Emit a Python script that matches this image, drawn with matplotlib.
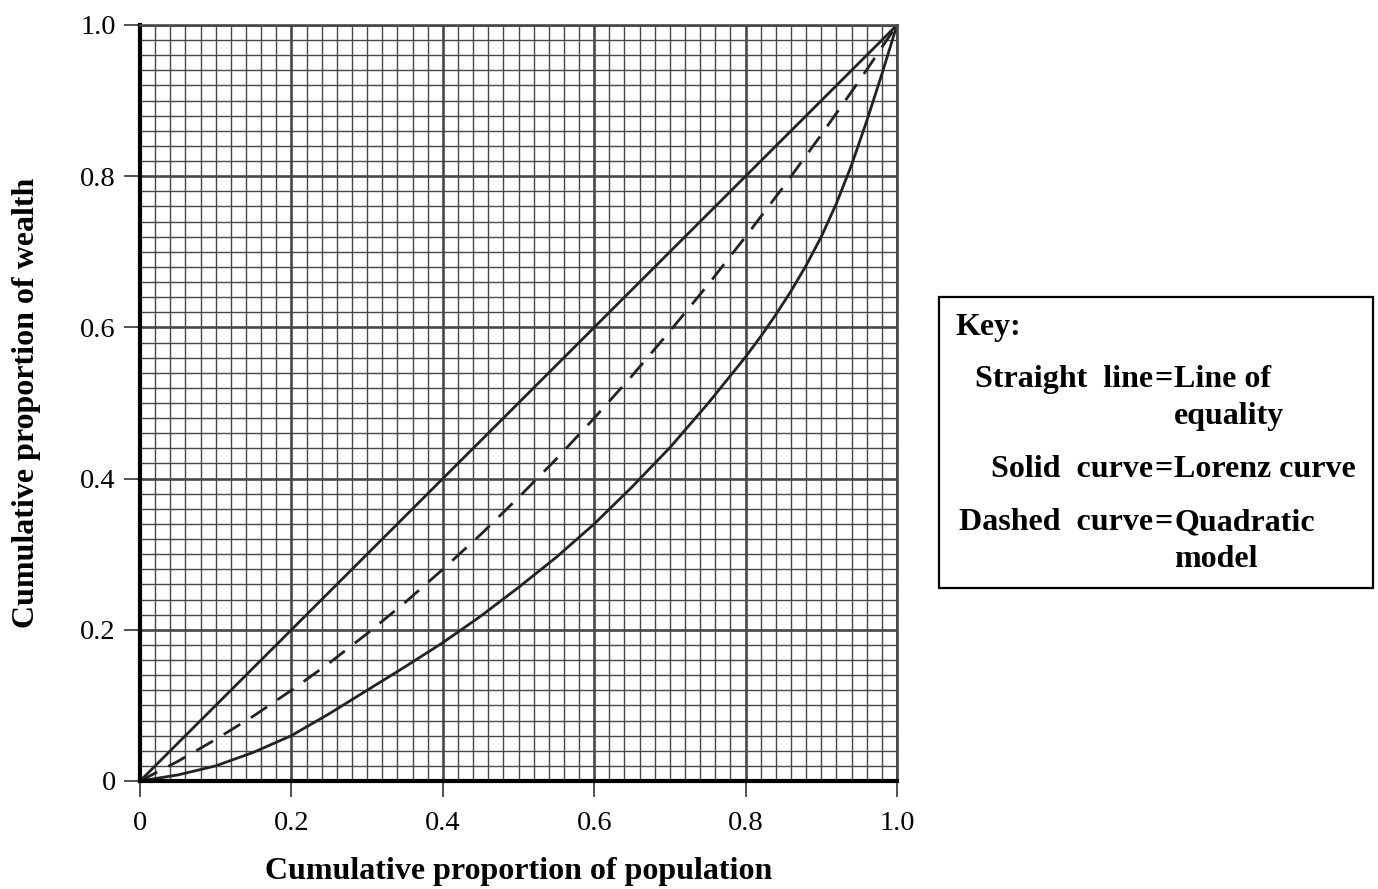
import numpy as np
import matplotlib
matplotlib.use("Agg")
import matplotlib.pyplot as plt
from matplotlib.ticker import MultipleLocator

# =========================
# Data
# =========================
lorenz_population = [0.0, 0.05, 0.1, 0.15, 0.2, 0.25, 0.3, 0.35, 0.4, 0.45, 0.5,
                     0.55, 0.6, 0.65, 0.7, 0.75, 0.8, 0.82, 0.84, 0.86, 0.88,
                     0.9, 0.92, 0.94, 0.96, 0.98, 1.0]
lorenz_wealth = [0.0, 0.008, 0.02, 0.038, 0.06, 0.089, 0.12, 0.151, 0.183, 0.218, 0.256,
                 0.296, 0.34, 0.389, 0.441, 0.499, 0.561, 0.588, 0.617, 0.648, 0.682,
                 0.72, 0.764, 0.815, 0.873, 0.935, 1.0]

quad_population = [0.0, 0.05, 0.1, 0.15, 0.2, 0.25, 0.3, 0.35, 0.4, 0.45, 0.5,
                   0.55, 0.6, 0.65, 0.7, 0.75, 0.8, 0.85, 0.9, 0.95, 1.0]
quadratic_wealth = [0.0, 0.026, 0.055, 0.086, 0.12, 0.156, 0.195, 0.236, 0.28, 0.326, 0.375,
                    0.426, 0.48, 0.536, 0.595, 0.656, 0.72, 0.786, 0.855, 0.926, 1.0]

equality_x = [0.0, 1.0]
equality_y = [0.0, 1.0]

tick_values = [0, 0.2, 0.4, 0.6, 0.8, 1.0]
tick_labels = ["0", "0.2", "0.4", "0.6", "0.8", "1.0"]

key_left = ["Straight  line", "Solid  curve", "Dashed  curve"]
key_right = ["Line of", "Lorenz curve", "Quadratic"]
key_right_2 = ["equality", "", "model"]

# =========================
# Figure
# =========================
W, H = 1378, 889
plt.rcParams["font.family"] = ["Liberation Serif", "DejaVu Serif"]

fig = plt.figure(figsize=(W / 100, H / 100), dpi=100)
ax = fig.add_axes([140 / W, (H - 781) / H, (897 - 140) / W, (781 - 25) / H])

grid_col = "#474747"
ax.xaxis.set_minor_locator(MultipleLocator(0.02))
ax.yaxis.set_minor_locator(MultipleLocator(0.02))
ax.xaxis.set_major_locator(MultipleLocator(0.2))
ax.yaxis.set_major_locator(MultipleLocator(0.2))
ax.grid(which="minor", color=grid_col, lw=1.0)
ax.grid(which="major", color=grid_col, lw=1.9)
ax.set_axisbelow(True)

line_col = "#222222"
ax.plot(equality_x, equality_y, color=line_col, lw=2.0)
ax.plot(lorenz_population, lorenz_wealth, color=line_col, lw=2.0)
ax.plot(quad_population, quadratic_wealth, color=line_col, lw=2.0,
        dashes=(7, 4.5))

ax.set_xlim(0, 1)
ax.set_ylim(0, 1)

for side in ["left", "bottom"]:
    ax.spines[side].set_color("black")
    ax.spines[side].set_linewidth(3.0)
for side in ["top", "right"]:
    ax.spines[side].set_color(grid_col)
    ax.spines[side].set_linewidth(1.9)

ax.set_xticks(tick_values)
ax.set_xticklabels(tick_labels)
ax.set_yticks(tick_values)
ax.set_yticklabels(tick_labels)
ax.tick_params(which="major", direction="out", length=11.5, width=1.2,
               color="#333333", labelsize=20.5, pad=6)
ax.tick_params(axis="x", pad=10)
ax.tick_params(which="minor", length=0)

ax.set_xlabel("Cumulative proportion of population", fontsize=23,
              fontweight="bold", labelpad=15)
ax.set_ylabel("Cumulative proportion of wealth", fontsize=23,
              fontweight="bold", labelpad=28)

# =========================
# Key box
# =========================
box = plt.Rectangle((939 / W, (H - 588) / H), (1373 - 939) / W, (588 - 297) / H,
                    transform=fig.transFigure, fill=False, edgecolor="black", lw=1.6)
fig.patches.append(box)


def px(x, y):
    return x / W, (H - y) / H


fs = 23
fig.text(*px(955, 335), "Key:", fontsize=fs, fontweight="bold", va="baseline")

rows_y = [387, 477, 530]
for label, meaning, extra, y in zip(key_left, key_right, key_right_2, rows_y):
    fig.text(*px(1153, y), label, fontsize=fs, fontweight="bold",
             ha="right", va="baseline")
    fig.text(*px(1163, y), "=", fontsize=fs, fontweight="bold",
             ha="center", va="baseline")
    fig.text(*px(1174, y), meaning, fontsize=fs, fontweight="bold",
             ha="left", va="baseline")
    if extra:
        fig.text(*px(1174, y + 37), extra, fontsize=fs, fontweight="bold",
                 ha="left", va="baseline")

fig.savefig("out.png", dpi=100)
